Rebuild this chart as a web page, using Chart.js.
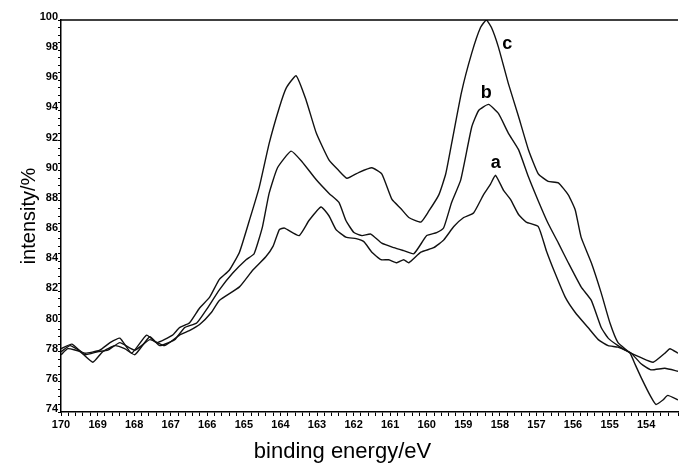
<!DOCTYPE html>
<html>
<head>
<meta charset="utf-8">
<script src="https://cdn.jsdelivr.net/npm/chart.js@4/dist/chart.umd.min.js"></script>
<style>
  body { margin: 0; background: #fff; }
  canvas { display: block; }
</style>
</head>
<body>
<canvas id="xps" width="680" height="463"></canvas>
<script>
// binding energy (eV) / intensity (%)
const aX = [170.0,169.70,169.35,169.0,168.72,168.39,167.98,167.57,167.17,166.76,166.49,166.21,165.89,165.67,165.12,164.76,164.40,164.20,164.03,163.89,163.49,163.22,162.89,162.67,162.48,162.21,161.93,161.72,161.50,161.25,161.04,160.82,160.63,160.49,160.16,159.81,159.54,159.26,158.99,158.72,158.45,158.26,158.12,157.90,157.71,157.49,157.28,156.95,156.73,156.49,156.21,155.94,155.59,155.31,155.04,154.77,154.41,154.14,153.87,153.49,153.13];
const aY = [78.2,78.5,77.8,78.0,78.1,78.6,78.1,78.8,78.4,79.1,79.4,79.8,80.6,81.4,82.3,83.4,84.3,85.0,86.1,86.2,85.7,86.7,87.6,87.0,86.1,85.6,85.5,85.3,84.6,84.1,84.1,83.9,84.1,83.9,84.6,84.9,85.4,86.3,86.9,87.2,88.4,89.1,89.7,88.7,88.1,87.1,86.6,86.3,84.7,83.2,81.6,80.6,79.6,78.8,78.4,78.3,77.9,77.2,76.8,76.9,76.7];

const bX = [170.0,169.81,169.48,169.13,168.86,168.53,168.26,167.98,167.57,167.30,166.89,166.62,166.29,166.02,165.67,165.31,164.94,164.72,164.49,164.31,164.08,163.71,163.41,163.02,162.67,162.40,162.21,161.99,161.77,161.53,161.23,160.90,160.63,160.35,160.00,159.73,159.54,159.32,159.07,158.77,158.58,158.31,158.04,157.77,157.49,157.22,156.95,156.68,156.40,156.13,155.78,155.50,155.23,155.04,154.77,154.50,154.14,153.81,153.49,153.35,153.13];
const bY = [77.8,78.2,78.0,77.3,78.0,78.4,78.2,77.8,79.0,78.4,78.8,79.6,79.9,80.8,82.1,83.2,84.1,84.5,86.3,88.5,90.2,91.3,90.6,89.4,88.5,87.9,86.7,85.9,85.7,85.8,85.2,84.9,84.7,84.5,85.7,85.9,86.2,87.9,89.4,92.9,94.0,94.4,93.8,92.5,91.4,89.6,88.0,86.5,85.2,83.9,82.3,81.4,79.6,78.9,78.4,78.0,77.6,77.3,77.9,78.2,77.9];

const cX = [170.0,169.75,169.35,168.94,168.66,168.39,168.07,167.66,167.38,166.95,166.76,166.49,166.21,165.94,165.67,165.40,165.12,164.85,164.58,164.31,164.03,163.84,163.57,163.30,163.02,162.67,162.40,162.18,161.85,161.50,161.23,160.95,160.71,160.49,160.16,159.95,159.67,159.48,159.32,159.05,158.77,158.53,158.37,158.23,158.04,157.77,157.49,157.22,156.95,156.68,156.40,156.13,155.94,155.78,155.50,155.23,154.99,154.77,154.44,154.31,154.14,153.87,153.73,153.54,153.41,153.13];
const cY = [78.0,78.4,77.9,78.1,78.6,78.9,77.9,79.1,78.6,79.1,79.6,79.9,80.9,81.6,82.8,83.4,84.6,86.7,88.9,91.8,94.2,95.5,96.3,94.7,92.5,90.7,90.0,89.5,89.9,90.2,89.8,88.1,87.5,86.9,86.6,87.3,88.4,89.8,91.8,95.2,97.8,99.5,100.0,99.5,98.2,95.8,93.6,91.4,89.8,89.3,89.2,88.4,87.4,85.6,83.9,81.9,79.9,78.6,77.9,77.2,76.3,75.0,74.5,74.8,75.1,74.8];

// curve labels (text, energy, intensity)
const curveNames = ['a', 'b', 'c'];
const nameX = [158.11, 158.37, 157.80];
const nameY = [90.2, 94.8, 98.1];

// axis ranges
const xMin = 153.13, xMax = 170;
const yMin = 74, yMax = 100;

function toPoints(xs, ys) {
  return xs.map((x, i) => ({ x: x, y: ys[i] }));
}

function line(label, xs, ys) {
  return {
    label: label,
    data: toPoints(xs, ys),
    borderColor: '#111',
    borderWidth: 1.4,
    pointRadius: 0,
    tension: 0.15,
    fill: false
  };
}

// draws the top frame line, the a/b/c tags and the x axis title
const extras = {
  id: 'extras',
  afterDraw(chart) {
    const ctx = chart.ctx;
    const area = chart.chartArea;
    const xs = chart.scales.x, ys = chart.scales.y;
    ctx.save();
    ctx.strokeStyle = '#000';
    ctx.lineWidth = 1.5;
    ctx.beginPath();
    ctx.moveTo(area.left, area.top);
    ctx.lineTo(area.right, area.top);
    ctx.stroke();

    ctx.fillStyle = '#000';
    ctx.font = 'bold 18px "Liberation Sans", Arial, sans-serif';
    ctx.textAlign = 'center';
    ctx.textBaseline = 'alphabetic';
    curveNames.forEach((n, i) => {
      ctx.fillText(n, xs.getPixelForValue(nameX[i]), ys.getPixelForValue(nameY[i]));
    });

    ctx.font = '22px "Liberation Sans", Arial, sans-serif';
    ctx.textBaseline = 'middle';
    ctx.fillText('binding energy/eV', (area.left + area.right) / 2 - 27, 452);
    ctx.restore();
  }
};

const isWhole = v => Math.abs(v - Math.round(v)) < 1e-6;

new Chart(document.getElementById('xps'), {
  type: 'line',
  data: {
    datasets: [line('a', aX, aY), line('b', bX, bY), line('c', cX, cY)]
  },
  options: {
    responsive: false,
    animation: false,
    devicePixelRatio: 1,
    layout: { padding: { top: 20, right: 0, left: 0, bottom: 0 } },
    plugins: { legend: { display: false }, tooltip: { enabled: false } },
    scales: {
      x: {
        type: 'linear',
        reverse: true,
        min: xMin,
        max: xMax,
        afterFit: s => { s.height = 51; },
        border: { color: '#000', width: 1.5 },
        grid: { drawOnChartArea: false, tickLength: 4, color: '#000' },
        ticks: {
          stepSize: 0.2,
          autoSkip: false,
          maxRotation: 0,
          padding: 2,
          color: '#000',
          font: { family: '"Liberation Sans", Arial, sans-serif', size: 11, weight: 'bold' },
          callback: v => isWhole(v) ? String(Math.round(v)) : ''
        }
      },
      y: {
        min: yMin,
        max: yMax,
        afterFit: s => { s.width = 61; },
        border: { color: '#000', width: 1.5 },
        grid: { drawOnChartArea: false, tickLength: 3, color: '#000' },
        title: {
          display: true,
          text: 'intensity/%',
          color: '#000',
          font: { family: '"Liberation Sans", Arial, sans-serif', size: 20 },
          padding: { top: 17, bottom: 0 }
        },
        ticks: {
          stepSize: 0.5,
          autoSkip: false,
          padding: 0,
          labelOffset: -3,
          color: '#000',
          font: { family: '"Liberation Sans", Arial, sans-serif', size: 11, weight: 'bold' },
          callback: v => (isWhole(v) && Math.round(v) % 2 === 0) ? String(Math.round(v)) : ''
        }
      }
    }
  },
  plugins: [extras]
});
</script>
</body>
</html>
